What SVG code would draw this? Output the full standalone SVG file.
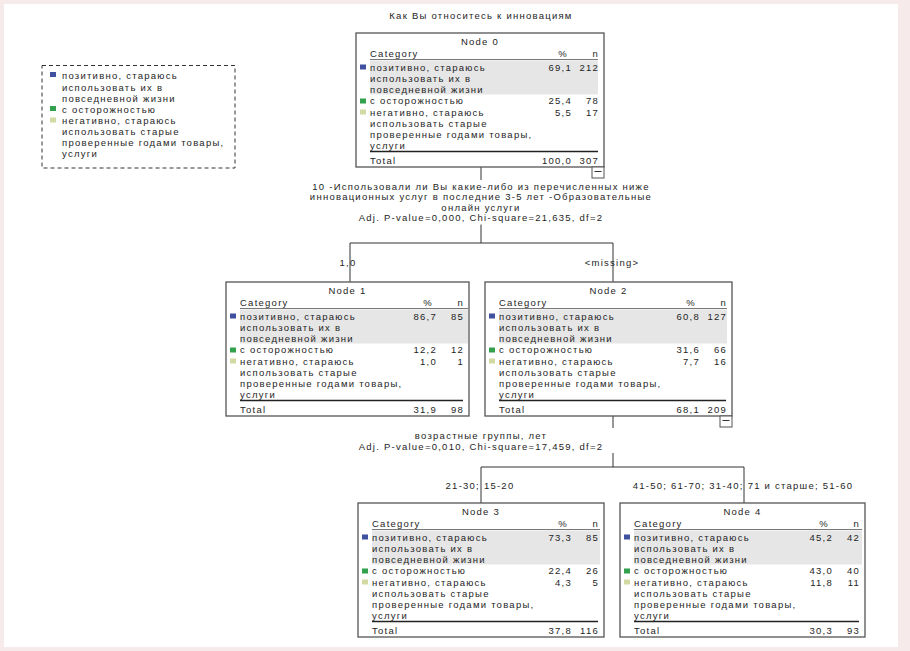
<svg xmlns="http://www.w3.org/2000/svg" width="910" height="651" viewBox="0 0 910 651">
<style>
.t{font-family:"Liberation Sans",Arial,sans-serif;font-size:9.5px;letter-spacing:1.25px;fill:#1e1e1e}
.mid{text-anchor:middle}
.end{text-anchor:end}
.box{fill:#ffffff;stroke:#555555;stroke-width:1.3}
.shade{fill:#e6e6e6}
.thin{stroke:#555555;stroke-width:0.8}
.thick{stroke:#222222;stroke-width:1.5}
.conn{stroke:#333333;stroke-width:1;fill:none}
.c1{fill:#3f51a0}
.c2{fill:#33a04e}
.c3{fill:#d3d9a3}
.col{fill:#ffffff;stroke:#555555;stroke-width:1}
</style>
<defs>
<g id="body">
<line class="thin" x1="14" y1="26.5" x2="242" y2="26.5"/>
<rect class="shade" x="14" y="27.5" width="228" height="34"/>
<rect class="c1" x="4" y="31.5" width="6" height="5"/>
<rect class="c2" x="4" y="65.5" width="6" height="5"/>
<rect class="c3" x="4" y="76.5" width="6" height="5"/>
<text class="t" x="14" y="23.5">Category</text>
<text class="t" x="14" y="37.5">позитивно, стараюсь</text>
<text class="t" x="14" y="48.8">использовать их в</text>
<text class="t" x="14" y="60.1">повседневной жизни</text>
<text class="t" x="14" y="71.4">с осторожностью</text>
<text class="t" x="14" y="82.7">негативно, стараюсь</text>
<text class="t" x="14" y="94">использовать старые</text>
<text class="t" x="14" y="105.3">проверенные годами товары,</text>
<text class="t" x="14" y="116.4">услуги</text>
<text class="t" x="14" y="130.5">Total</text>
</g>
</defs>
<rect x="0" y="0" width="910" height="651" fill="#f6eaea"/>
<rect x="4" y="4" width="894" height="643" fill="#ffffff"/>

<text class="t mid" x="481" y="18.5">Как Вы относитесь к инновациям</text>

<g id="legend">
<rect x="42" y="65.5" width="193" height="102.5" fill="#ffffff" stroke="#333333" stroke-width="1" stroke-dasharray="4,3"/>
<rect class="c1" x="50" y="72" width="6" height="5"/>
<rect class="c2" x="50" y="106" width="6" height="5"/>
<rect class="c3" x="50" y="117.5" width="6" height="5"/>
<text class="t" x="62" y="79">позитивно, стараюсь</text>
<text class="t" x="62" y="90.5">использовать их в</text>
<text class="t" x="62" y="102">повседневной жизни</text>
<text class="t" x="62" y="113">с осторожностью</text>
<text class="t" x="62" y="124.3">негативно, стараюсь</text>
<text class="t" x="62" y="135">использовать старые</text>
<text class="t" x="62" y="146">проверенные годами товары,</text>
<text class="t" x="62" y="156.5">услуги</text>
</g>

<g id="connectors">
<path class="conn" d="M481 167 V180 M481 224.5 V243 M350 243 H613 M350 243 V282 M613 243 V282"/>
<path class="conn" d="M613 416 V428 M613 453 V467 M481 467 H744 M481 467 V503 M744 467 V503"/>
<text class="t mid" x="481" y="189.5">10 -Использовали ли Вы какие-либо из перечисленных ниже</text>
<text class="t mid" x="481" y="200">инновационных услуг в последние 3-5 лет -Образовательные</text>
<text class="t mid" x="481" y="210.5">онлайн услуги</text>
<text class="t mid" x="481" y="221">Adj. P-value=0,000, Chi-square=21,635, df=2</text>
<text class="t mid" x="348" y="265.5">1,0</text>
<text class="t mid" x="612" y="265.5">&lt;missing&gt;</text>
<text class="t mid" x="481" y="439">возрастные группы, лет</text>
<text class="t mid" x="481" y="449.5">Adj. P-value=0,010, Chi-square=17,459, df=2</text>
<text class="t mid" x="480" y="488.5">21-30; 15-20</text>
<text class="t mid" x="743" y="488.5">41-50; 61-70; 31-40; 71 и старше; 51-60</text>
</g>

<g id="node0" transform="translate(356,33)">
<rect class="box" width="248" height="134"/>
<text class="t mid" x="124" y="11.5">Node 0</text>
<use href="#body"/>
<line class="thick" x1="14" y1="118.5" x2="242" y2="118.5"/>
<text class="t mid" x="207" y="23.5">%</text>
<text class="t end" x="243" y="23.5">n</text>
<text class="t end" x="216" y="37.5">69,1</text><text class="t end" x="243" y="37.5">212</text>
<text class="t end" x="216" y="71.4">25,4</text><text class="t end" x="243" y="71.4">78</text>
<text class="t end" x="216" y="82.7">5,5</text><text class="t end" x="243" y="82.7">17</text>
<text class="t end" x="216" y="130.5">100,0</text><text class="t end" x="243" y="130.5">307</text>
<rect class="col" x="236" y="134" width="12" height="11"/>
<line class="conn" x1="238.5" y1="138.5" x2="245.5" y2="138.5"/>
</g>

<g id="node1" transform="translate(226,282)">
<rect class="box" width="243" height="134"/>
<text class="t mid" x="121.5" y="11.5">Node 1</text>
<use href="#body"/>
<line class="thick" x1="14" y1="118.5" x2="237" y2="118.5"/>
<text class="t mid" x="202" y="23.5">%</text>
<text class="t end" x="238" y="23.5">n</text>
<text class="t end" x="211" y="37.5">86,7</text><text class="t end" x="238" y="37.5">85</text>
<text class="t end" x="211" y="71.4">12,2</text><text class="t end" x="238" y="71.4">12</text>
<text class="t end" x="211" y="82.7">1,0</text><text class="t end" x="238" y="82.7">1</text>
<text class="t end" x="211" y="130.5">31,9</text><text class="t end" x="238" y="130.5">98</text>
</g>

<g id="node2" transform="translate(485,282)">
<rect class="box" width="247" height="134"/>
<text class="t mid" x="123.5" y="11.5">Node 2</text>
<use href="#body"/>
<line class="thick" x1="14" y1="118.5" x2="241" y2="118.5"/>
<text class="t mid" x="206" y="23.5">%</text>
<text class="t end" x="242" y="23.5">n</text>
<text class="t end" x="215" y="37.5">60,8</text><text class="t end" x="242" y="37.5">127</text>
<text class="t end" x="215" y="71.4">31,6</text><text class="t end" x="242" y="71.4">66</text>
<text class="t end" x="215" y="82.7">7,7</text><text class="t end" x="242" y="82.7">16</text>
<text class="t end" x="215" y="130.5">68,1</text><text class="t end" x="242" y="130.5">209</text>
<rect class="col" x="235" y="134" width="12" height="11"/>
<line class="conn" x1="237.5" y1="138.5" x2="244.5" y2="138.5"/>
</g>

<g id="node3" transform="translate(358,503)">
<rect class="box" width="246" height="134"/>
<text class="t mid" x="123" y="11.5">Node 3</text>
<use href="#body"/>
<line class="thick" x1="14" y1="118.5" x2="240" y2="118.5"/>
<text class="t mid" x="205" y="23.5">%</text>
<text class="t end" x="241" y="23.5">n</text>
<text class="t end" x="214" y="37.5">73,3</text><text class="t end" x="241" y="37.5">85</text>
<text class="t end" x="214" y="71.4">22,4</text><text class="t end" x="241" y="71.4">26</text>
<text class="t end" x="214" y="82.7">4,3</text><text class="t end" x="241" y="82.7">5</text>
<text class="t end" x="214" y="130.5">37,8</text><text class="t end" x="241" y="130.5">116</text>
</g>

<g id="node4" transform="translate(620,503)">
<rect class="box" width="245" height="134"/>
<text class="t mid" x="122.5" y="11.5">Node 4</text>
<use href="#body"/>
<line class="thick" x1="14" y1="118.5" x2="239" y2="118.5"/>
<text class="t mid" x="204" y="23.5">%</text>
<text class="t end" x="240" y="23.5">n</text>
<text class="t end" x="213" y="37.5">45,2</text><text class="t end" x="240" y="37.5">42</text>
<text class="t end" x="213" y="71.4">43,0</text><text class="t end" x="240" y="71.4">40</text>
<text class="t end" x="213" y="82.7">11,8</text><text class="t end" x="240" y="82.7">11</text>
<text class="t end" x="213" y="130.5">30,3</text><text class="t end" x="240" y="130.5">93</text>
</g>
</svg>
